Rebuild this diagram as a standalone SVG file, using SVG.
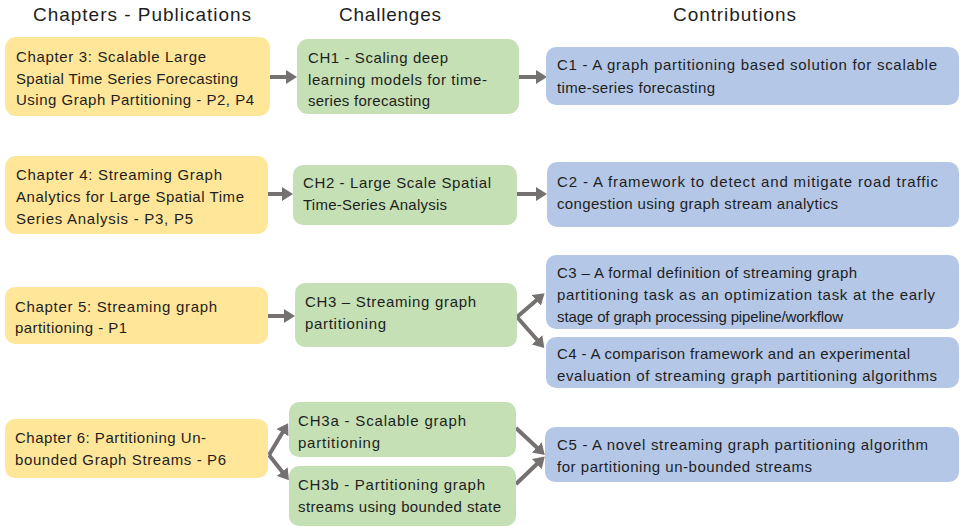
<svg xmlns="http://www.w3.org/2000/svg" width="960" height="527" viewBox="0 0 960 527">
<defs>
<marker id="ah" markerUnits="userSpaceOnUse" markerWidth="12" markerHeight="14" refX="3" refY="7" orient="auto">
<path d="M0,0 L11,7 L0,14 z" fill="#767171"/>
</marker>
<style>
.y{fill:#FFE699}
.g{fill:#C5E0B4}
.b{fill:#B4C7E7}
text{font-family:"Liberation Sans","DejaVu Sans",sans-serif;fill:#1e1e1e;font-size:15px}
.h{font-size:19px}
.c{stroke:#767171;stroke-width:4;fill:none;marker-end:url(#ah)}
</style>
</defs>
<rect width="960" height="527" fill="#ffffff"/>
<g id="headers">
<text class="h" x="33" y="21" textLength="218" lengthAdjust="spacing">Chapters - Publications</text>
<text class="h" x="339" y="21" textLength="102" lengthAdjust="spacing">Challenges</text>
<text class="h" x="673" y="21" textLength="123" lengthAdjust="spacing">Contributions</text>
</g>
<g id="connectors">
<line class="c" x1="270" y1="77" x2="289" y2="77"/>
<line class="c" x1="519" y1="77" x2="539" y2="77"/>
<line class="c" x1="268" y1="194" x2="285" y2="194"/>
<line class="c" x1="517" y1="194" x2="539" y2="194"/>
<line class="c" x1="268" y1="316" x2="287" y2="316"/>
<polyline class="c" points="517,317 538.5,298.5"/>
<polyline class="c" points="517,317 539,342"/>
<line class="c" x1="269" y1="455" x2="284" y2="430"/>
<line class="c" x1="269" y1="455" x2="284" y2="474"/>
<line class="c" x1="516" y1="428" x2="539" y2="449.5"/>
<line class="c" x1="516" y1="484" x2="539" y2="462"/>
</g>
<g id="Y1"><rect class="y" x="5" y="37" width="265" height="79" rx="11"/>
<text x="16" y="62" textLength="190" lengthAdjust="spacing">Chapter 3: Scalable Large</text>
<text x="16" y="84" textLength="222" lengthAdjust="spacing">Spatial Time Series Forecasting</text>
<text x="16" y="105" textLength="238" lengthAdjust="spacing">Using Graph Partitioning - P2, P4</text></g>
<g id="Y2"><rect class="y" x="5" y="156" width="263" height="78" rx="11"/>
<text x="16" y="180" textLength="206" lengthAdjust="spacing">Chapter 4: Streaming Graph</text>
<text x="16" y="202" textLength="228" lengthAdjust="spacing">Analytics for Large Spatial Time</text>
<text x="16" y="224" textLength="177" lengthAdjust="spacing">Series Analysis - P3, P5</text></g>
<g id="Y3"><rect class="y" x="5" y="287" width="263" height="57" rx="10"/>
<text x="15" y="312" textLength="202" lengthAdjust="spacing">Chapter 5: Streaming graph</text>
<text x="15" y="333" textLength="112" lengthAdjust="spacing">partitioning - P1</text></g>
<g id="Y4"><rect class="y" x="5" y="419" width="263" height="59" rx="10"/>
<text x="15" y="443" textLength="191" lengthAdjust="spacing">Chapter 6: Partitioning Un-</text>
<text x="15" y="465" textLength="211" lengthAdjust="spacing">bounded Graph Streams - P6</text></g>
<g id="G1"><rect class="g" x="297" y="39" width="222" height="75" rx="11"/>
<text x="308" y="63" textLength="140" lengthAdjust="spacing">CH1 - Scaling deep</text>
<text x="308" y="85" textLength="179" lengthAdjust="spacing">learning models for time-</text>
<text x="308" y="106" textLength="122" lengthAdjust="spacing">series forecasting</text></g>
<g id="G2"><rect class="g" x="293" y="165" width="224" height="60" rx="10"/>
<text x="303" y="188" textLength="188" lengthAdjust="spacing">CH2 - Large Scale Spatial</text>
<text x="303" y="210" textLength="144" lengthAdjust="spacing">Time-Series Analysis</text></g>
<g id="G3"><rect class="g" x="295" y="283" width="222" height="64" rx="10"/>
<text x="305" y="307" textLength="171" lengthAdjust="spacing">CH3 – Streaming graph</text>
<text x="305" y="329" textLength="81" lengthAdjust="spacing">partitioning</text></g>
<g id="G4a"><rect class="g" x="289" y="402" width="227" height="55" rx="10"/>
<text x="298" y="426" textLength="168" lengthAdjust="spacing">CH3a - Scalable graph</text>
<text x="298" y="448" textLength="82" lengthAdjust="spacing">partitioning</text></g>
<g id="G4b"><rect class="g" x="289" y="466" width="227" height="60" rx="10"/>
<text x="298" y="490" textLength="187" lengthAdjust="spacing">CH3b - Partitioning graph</text>
<text x="298" y="512" textLength="203" lengthAdjust="spacing">streams using bounded state</text></g>
<g id="B1"><rect class="b" x="546" y="47" width="413" height="58" rx="10"/>
<text x="557" y="70" textLength="380" lengthAdjust="spacing">C1 - A graph partitioning based solution for scalable</text>
<text x="557" y="93" textLength="158" lengthAdjust="spacing">time-series forecasting</text></g>
<g id="B2"><rect class="b" x="547" y="162" width="412" height="65" rx="10"/>
<text x="557" y="187" textLength="381" lengthAdjust="spacing">C2 - A framework to detect and mitigate road traffic</text>
<text x="557" y="209" textLength="281" lengthAdjust="spacing">congestion using graph stream analytics</text></g>
<g id="B3"><rect class="b" x="546" y="255" width="413" height="74" rx="10"/>
<text x="557" y="278" textLength="300" lengthAdjust="spacing">C3 – A formal definition of streaming graph</text>
<text x="557" y="300" textLength="378" lengthAdjust="spacing">partitioning task as an optimization task at the early</text>
<text x="557" y="322" textLength="286" lengthAdjust="spacing">stage of graph processing pipeline/workflow</text></g>
<g id="B4"><rect class="b" x="546" y="337" width="413" height="51" rx="10"/>
<text x="557" y="359" textLength="353" lengthAdjust="spacing">C4 - A comparison framework and an experimental</text>
<text x="557" y="381" textLength="380" lengthAdjust="spacing">evaluation of streaming graph partitioning algorithms</text></g>
<g id="B5"><rect class="b" x="545" y="427" width="414" height="55" rx="10"/>
<text x="557" y="450" textLength="371" lengthAdjust="spacing">C5 - A novel streaming graph partitioning algorithm</text>
<text x="557" y="472" textLength="255" lengthAdjust="spacing">for partitioning un-bounded streams</text></g>
</svg>
